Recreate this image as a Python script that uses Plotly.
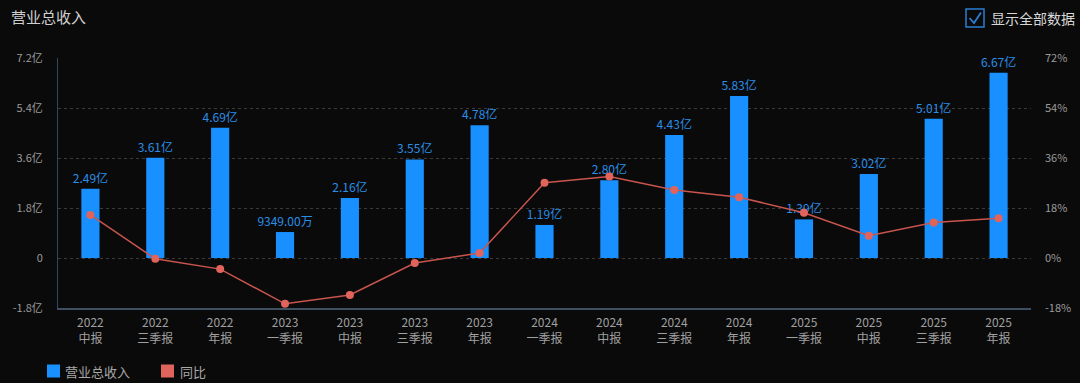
import plotly.graph_objects as go

categories = ["2022<br>中报", "2022<br>三季报", "2022<br>年报", "2023<br>一季报", "2023<br>中报",
              "2023<br>三季报", "2023<br>年报", "2024<br>一季报", "2024<br>中报", "2024<br>三季报",
              "2024<br>年报", "2025<br>一季报", "2025<br>中报", "2025<br>三季报", "2025<br>年报"]
revenue = [2.49, 3.61, 4.69, 0.9349, 2.16, 3.55, 4.78, 1.19, 2.80, 4.43, 5.83, 1.39, 3.02, 5.01, 6.67]  # 亿
yoy = [15.5, -0.3, -4.0, -16.5, -13.3, -1.8, 1.8, 27.1, 29.3, 24.5, 21.9, 16.3, 8.0, 12.8, 14.3]  # %

left_ticks = [-1.8, 0, 1.8, 3.6, 5.4, 7.2]
left_ticktext = ["-1.8亿", "0", "1.8亿", "3.6亿", "5.4亿", "7.2亿"]
right_ticks = [-18, 0, 18, 36, 54, 72]
right_ticktext = ["-18%", "0%", "18%", "36%", "54%", "72%"]
series_names = ["营业总收入", "同比"]


def fmt(v):
    if abs(v) < 1:
        return f"{v * 10000:.2f}万"
    return f"{v:.2f}亿"


labels = [fmt(v) for v in revenue]

FONT = "Noto Sans CJK SC"
BLUE = "#1890ff"
RED = "#e0645c"
BG = "#0a0a0a"

# plot area in pixels
L, R, T, B = 58, 1031, 58, 308
PW, PH = R - L, B - T


def px(x):
    return (x - L) / PW


def py(y):
    return (B - y) / PH


fig = go.Figure()
fig.add_trace(go.Bar(
    x=categories, y=revenue, name=series_names[0], marker=dict(color=BLUE, line=dict(width=0)),
    width=0.28, text=labels, textposition="outside", constraintext="none",
    textfont=dict(color="#2a8ee6", size=12, family=FONT), cliponaxis=False,
    hoverinfo="skip", showlegend=False,
))
fig.add_trace(go.Scatter(
    x=categories, y=yoy, name=series_names[1], yaxis="y2", mode="lines+markers",
    line=dict(color="#c9554e", width=1.5), marker=dict(color=RED, size=8),
    showlegend=False, hoverinfo="skip", cliponaxis=False,
))

annotations = [
    dict(text="营业总收入", xref="paper", yref="paper", x=px(9), y=py(16),
         xanchor="left", yanchor="middle", showarrow=False,
         font=dict(size=15, color="#d0d0d0", family=FONT)),
    dict(text="显示全部数据", xref="paper", yref="paper", x=px(989), y=py(18),
         xanchor="left", yanchor="middle", showarrow=False,
         font=dict(size=14, color="#d8d8d8", family=FONT)),
    dict(text=series_names[0], xref="paper", yref="paper", x=px(63), y=py(371),
         xanchor="left", yanchor="middle", showarrow=False,
         font=dict(size=13, color="#a8a8a8", family=FONT)),
    dict(text=series_names[1], xref="paper", yref="paper", x=px(178), y=py(371),
         xanchor="left", yanchor="middle", showarrow=False,
         font=dict(size=13, color="#a8a8a8", family=FONT)),
]

shapes = [
    dict(type="rect", xref="paper", yref="paper",
         x0=px(966), x1=px(984), y0=py(27), y1=py(9),
         line=dict(color="#2a7fd4", width=1.5), fillcolor="rgba(0,0,0,0)"),
    dict(type="path", xref="paper", yref="paper",
         path=f"M {px(969.5)},{py(18)} L {px(974)},{py(23)} L {px(981)},{py(12.5)}",
         line=dict(color="#2a7fd4", width=1.8)),
    dict(type="rect", xref="paper", yref="paper",
         x0=px(47), x1=px(60), y0=py(377.5), y1=py(364.5),
         line=dict(width=0), fillcolor=BLUE),
    dict(type="rect", xref="paper", yref="paper",
         x0=px(161), x1=px(174), y0=py(377.5), y1=py(364.5),
         line=dict(width=0), fillcolor=RED),
]

fig.update_layout(
    width=1080, height=383,
    margin=dict(l=L, r=1080 - R, t=T, b=383 - B),
    paper_bgcolor=BG, plot_bgcolor=BG,
    font=dict(family=FONT, color="#9a9a9a", size=11),
    barmode="overlay",
    showlegend=False,
    xaxis=dict(
        range=[-0.5, len(categories) - 0.5], automargin=False,
        showgrid=False, showline=True, linecolor="#3d4f61", linewidth=1.5,
        tickfont=dict(size=12, color="#a0a0a0"), ticks="", zeroline=False,
        ticklabelstandoff=3,
    ),
    yaxis=dict(
        range=[-1.8, 7.2], tickvals=left_ticks, ticktext=left_ticktext, automargin=False,
        showgrid=True, gridcolor="#3a3a3a", griddash="dot", gridwidth=1,
        zeroline=False, showline=True, linecolor="#2c4a68", linewidth=1,
        tickfont=dict(size=11, color="#9a9a9a"), ticks="", ticklabelstandoff=12,
    ),
    yaxis2=dict(
        range=[-18, 72], tickvals=right_ticks, ticktext=right_ticktext, automargin=False,
        overlaying="y", side="right", showgrid=False, zeroline=False,
        tickfont=dict(size=11, color="#9a9a9a"), ticks="", ticklabelstandoff=13,
    ),
    annotations=annotations,
    shapes=shapes,
)

fig.write_html(
    "out.html",
    config={"displayModeBar": False},
    post_script="document.body.style.margin='0';document.body.style.background='#0a0a0a';",
)
